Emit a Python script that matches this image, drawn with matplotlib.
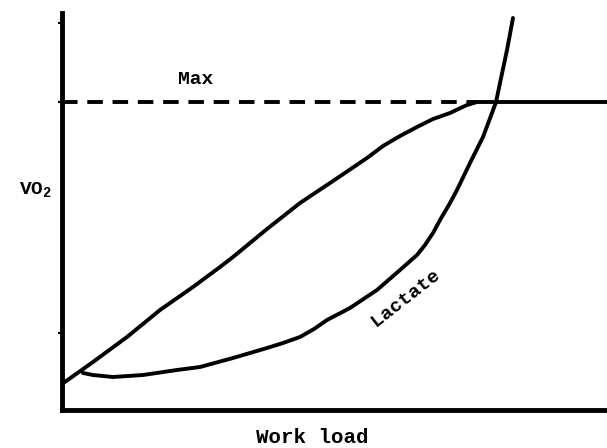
import matplotlib.pyplot as plt

# work load (arbitrary units) and VO2 / lactate readings (arbitrary units)
vo2_x = [0, 31, 65, 98, 131, 158, 171, 205, 238, 271, 305, 321, 338, 355,
         371, 388, 405, 415, 545]
vo2_y = [26, 48, 73, 100, 123, 143, 153, 181, 207, 229, 252, 264, 274, 283,
         291, 297, 305, 308, 308]

lac_x = [21, 31, 51, 81, 115, 138, 171, 205, 221, 238, 252, 265, 288, 315,
         338, 355, 363, 371, 378, 388, 395, 408, 421, 430, 434, 438, 445, 451]
lac_y = [37, 35, 33, 35, 40, 43, 52, 62, 67, 73, 81, 90, 102, 120,
         140, 155, 165, 177, 190, 207, 220, 247, 273, 297, 308, 327, 360, 392]

vo2_max = 308
max_end = 415
y_ticks = [77, 308, 387]

font = "Liberation Mono"

fig = plt.figure(figsize=(6.07, 4.48), dpi=100)
ax = fig.add_axes([62 / 607, 38 / 448, 1 - 62 / 607, 397 / 448])

style = dict(color="black", lw=2.8, solid_joinstyle="round",
             solid_capstyle="round")
ax.plot(vo2_x, vo2_y, **style)
ax.plot(lac_x, lac_y, **style)
ax.plot([0, max_end], [vo2_max, vo2_max], color="black", lw=2.8,
        dashes=(4, 2.5))

ax.set_xlim(0, 545)
ax.set_ylim(0, 397)
for side in ("top", "right"):
    ax.spines[side].set_visible(False)
for side in ("left", "bottom"):
    ax.spines[side].set_linewidth(3.5)
ax.set_xticks([])
ax.set_yticks(y_ticks)
ax.set_yticklabels([])
ax.tick_params(axis="y", length=3, width=1.5, direction="out")

ax.text(134, 330, "Max", fontsize=14, fontweight="bold", family=font,
        ha="center", va="center")
ax.text(344, 112, "Lactate", fontsize=14, fontweight="bold", family=font,
        ha="center", va="center", rotation=38)
fig.text(35 / 607, 1 - 190 / 448, r"VO$_\mathregular{2}$", fontsize=14,
         fontweight="bold", family=font, ha="center", va="center")
fig.text(312 / 607, 1 - 437 / 448, "Work load", fontsize=15,
         fontweight="bold", family=font, ha="center", va="center")

fig.savefig("out.png", dpi=100)
